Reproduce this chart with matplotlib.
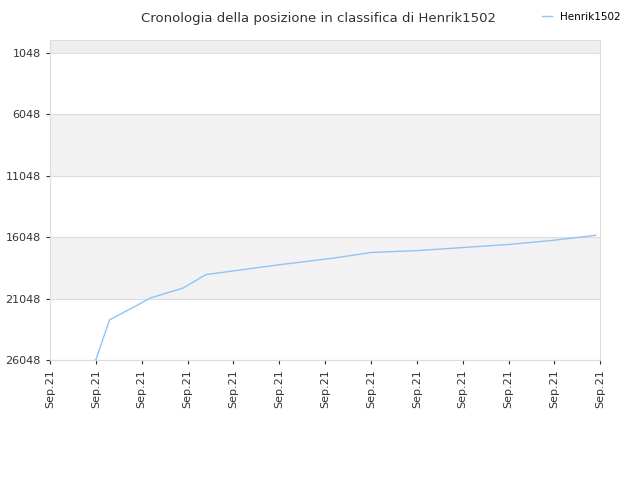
import matplotlib
matplotlib.use("Agg")
import matplotlib.pyplot as plt

ticks = ["Sep.21"] * 13
# x in tick units (0..12), rank values
xs = [0.8, 1.0, 1.3, 1.8, 2.2, 2.9, 3.4, 4.0, 5.0, 6.2, 7.0, 8.0, 9.0, 10.0, 11.0, 11.9]
ranks = [26300, 26048, 22780, 21800, 20990, 20200, 19100, 18800, 18300, 17750, 17300, 17150, 16900, 16650, 16300, 15900]
yticks = [1048, 6048, 11048, 16048, 21048, 26048]

fig = plt.figure(figsize=(6.4, 4.8), dpi=100)
ax = fig.add_axes([0.078, 0.25, 0.86, 0.667])
ax.axhspan(0, 1048, color="#eeeeee", lw=0)
ax.axhspan(6048, 11048, color="#f2f2f2", lw=0)
ax.axhspan(16048, 21048, color="#f2f2f2", lw=0)
for y in yticks:
    ax.axhline(y, color="#dddddd", lw=0.8)
ax.plot(xs, ranks, color="#90c4f5", lw=1.0, label="Henrik1502")
ax.set_xlim(0, 12)
ax.set_ylim(26048, 0)
ax.set_yticks(yticks)
ax.set_xticks(range(13))
ax.set_xticklabels(ticks, rotation=90)
ax.tick_params(labelsize=8, colors="#333333", length=3)
for s in ax.spines.values():
    s.set_color("#dddddd")
fig.text(0.497, 0.975, "Cronologia della posizione in classifica di Henrik1502",
         ha="center", va="top", fontsize=9.5, color="#333333")
fig.legend(loc="upper right", bbox_to_anchor=(0.985, 0.995), frameon=False, fontsize=7.5,
           handlelength=1.0)
fig.savefig("out.png")
